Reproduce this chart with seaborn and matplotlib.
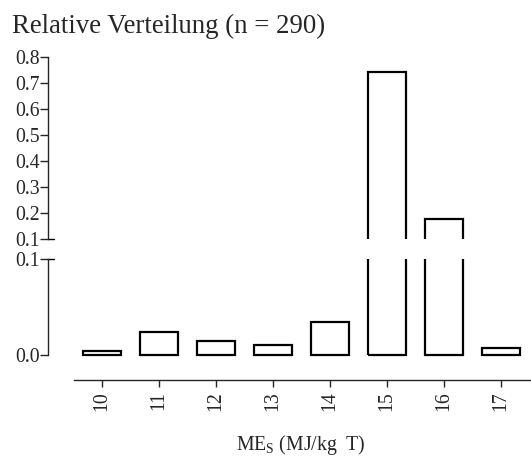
import matplotlib
matplotlib.use("Agg")
import matplotlib.pyplot as plt
import seaborn as sns
from matplotlib.ticker import FormatStrFormatter

# relative Verteilung der ME_S-Klassen (n = 290)
categories = ["10", "11", "12", "13", "14", "15", "16", "17"]
shares = [0.0035, 0.024, 0.014, 0.010, 0.034, 0.741, 0.174, 0.007]
upper_ticks = [0.1, 0.2, 0.3, 0.4, 0.5, 0.6, 0.7, 0.8]
lower_ticks = [0.0, 0.1]

sns.set_style("ticks")
plt.rcParams["font.family"] = ["Liberation Serif", "DejaVu Serif"]
plt.rcParams["mathtext.fontset"] = "custom"
plt.rcParams["mathtext.rm"] = "Liberation Serif"
plt.rcParams["mathtext.it"] = "Liberation Serif:italic"

fig = plt.figure(figsize=(5.31, 4.57), dpi=100)
ax_top = fig.add_axes([0.0913, 0.4777, 0.9087, 0.3982])
ax_bot = fig.add_axes([0.0913, 0.2133, 0.9087, 0.2206])

for ax in (ax_top, ax_bot):
    sns.barplot(x=categories, y=shares, fill=False, color="black",
                width=0.66, linewidth=1.6, ax=ax)
    ax.set_xlim(-0.939, 7.526)
    ax.spines["top"].set_visible(False)
    ax.spines["right"].set_visible(False)
    ax.spines["left"].set_linewidth(1.0)
    ax.tick_params(axis="y", length=5.5, width=1.0, pad=1, labelsize=14.2)
    ax.yaxis.set_major_formatter(FormatStrFormatter("%.1f"))
    ax.set_ylabel("")

# oberer Teil 0.1 - 0.8
ax_top.set_ylim(0.1, 0.8)
ax_top.set_yticks(upper_ticks)
ax_top.spines["left"].set_bounds(0.1, 0.8)
ax_top.spines["bottom"].set_visible(False)
ax_top.tick_params(axis="x", bottom=False, labelbottom=False)
ax_top.set_xlabel("")

# unterer Teil 0.0 - 0.1
ax_bot.set_ylim(-0.005, 0.1)
ax_bot.set_yticks(lower_ticks)
ax_bot.spines["left"].set_bounds(0.0, 0.1)
ax_bot.spines["bottom"].set_position(("outward", 14.8))
ax_bot.spines["bottom"].set_bounds(-0.5, 7.5)
ax_bot.spines["bottom"].set_linewidth(1.0)
ax_bot.tick_params(axis="x", length=5, width=1.0, pad=3, labelsize=14.2,
                   labelrotation=90)
ax_bot.set_xlabel(r"ME$_\mathrm{S}$ (MJ/kg  T)", fontsize=14.2)
ax_bot.xaxis.set_label_coords(0.524, -0.725)

# kleine Markierungen an der Achsenunterbrechung
for ax in (ax_top, ax_bot):
    ax.plot([0, 0.012], [0.1, 0.1], transform=ax.get_yaxis_transform(),
            color="black", lw=1.0, clip_on=False)

fig.text(0.0226, 0.927, "Relative Verteilung (n = 290)", fontsize=19.3,
         va="baseline", ha="left")

fig.savefig("out.png", dpi=100)
